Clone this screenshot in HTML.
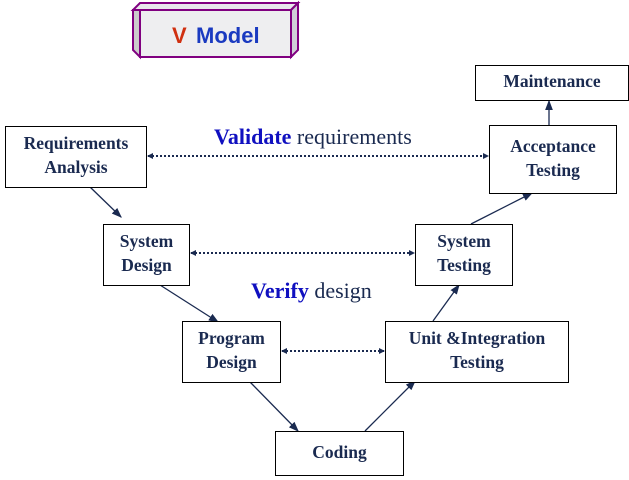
<!DOCTYPE html>
<html><head><style>
body{margin:0;width:629px;height:480px;background:#fff;position:relative;overflow:hidden;font-family:"Liberation Serif",serif;}
.b{position:absolute;border:1.5px solid #000;box-sizing:border-box;background:#fff;display:flex;align-items:center;justify-content:center;text-align:center;font-weight:bold;font-size:17.5px;color:#1a2a50;line-height:24px;padding-bottom:4px;}
.t{position:absolute;font-size:22px;white-space:nowrap;color:#1a2a50;}
.t b{color:#1010c0;}
</style></head><body>
<svg width="629" height="480" style="position:absolute;left:0;top:0">
<defs><marker id="a" markerWidth="8" markerHeight="8" refX="7" refY="4" orient="auto"><path d="M0,1 L8,4 L0,7z" fill="#1a2a50"/></marker>
<marker id="d" markerWidth="6" markerHeight="6" refX="5" refY="3" orient="auto-start-reverse" markerUnits="userSpaceOnUse"><path d="M0,0 L6,3 L0,6z" fill="#1a2a50"/></marker></defs>
<polygon points="133,10 140,3 298,3 291,10" fill="#e8e8ec" stroke="#800080" stroke-width="2"/>
<polygon points="291,10 298,3 298,50 291,57" fill="#d0d0d8" stroke="#800080" stroke-width="2"/>
<rect x="140" y="10" width="151" height="47" fill="#eeeef0" stroke="#800080" stroke-width="2"/>
<polygon points="133,10 140,10 140,57 133,50" fill="#ccc" stroke="#800080" stroke-width="2"/>
<text x="172" y="43" font-family="Liberation Sans" font-weight="bold" font-size="22" fill="#d03010">V</text>
<text x="196" y="43" font-family="Liberation Sans" font-weight="bold" font-size="22" fill="#1a3ac0">Model</text>
<g stroke="#1a2a50" stroke-width="1.3" fill="none" marker-end="url(#a)">
<line x1="90" y1="187" x2="121" y2="217"/>
<line x1="160" y1="285" x2="218" y2="322"/>
<line x1="250" y1="382" x2="298" y2="431"/>
<line x1="365" y1="431" x2="415" y2="381"/>
<line x1="433" y1="321" x2="459" y2="285"/>
<line x1="471" y1="224" x2="532" y2="193"/>
<line x1="549" y1="125" x2="549" y2="101"/>
</g>
<g stroke="#1a2a50" stroke-width="2" stroke-dasharray="2,2" fill="none" marker-end="url(#d)" marker-start="url(#d)">
<line x1="148" y1="156" x2="488" y2="156"/>
<line x1="191" y1="253" x2="414" y2="253"/>
<line x1="282" y1="351" x2="384" y2="351"/>
</g>
</svg>
<div class="b" style="left:5px;top:126px;width:142px;height:62px">Requirements<br>Analysis</div>
<div class="b" style="left:103px;top:224px;width:87px;height:62px">System<br>Design</div>
<div class="b" style="left:182px;top:321px;width:99px;height:62px">Program<br>Design</div>
<div class="b" style="left:275px;top:431px;width:129px;height:45px">Coding</div>
<div class="b" style="left:385px;top:321px;width:184px;height:62px">Unit &amp;Integration<br>Testing</div>
<div class="b" style="left:415px;top:224px;width:98px;height:62px">System<br>Testing</div>
<div class="b" style="left:489px;top:125px;width:128px;height:69px">Acceptance<br>Testing</div>
<div class="b" style="left:475px;top:65px;width:154px;height:36px">Maintenance</div>
<div class="t" style="left:214px;top:124px"><b>Validate</b> requirements</div>
<div class="t" style="left:251px;top:278px"><b>Verify</b> design</div>
</body></html>
